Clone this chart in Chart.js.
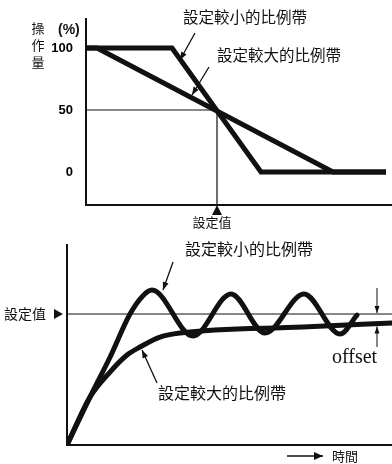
<!DOCTYPE html>
<html>
<head>
<meta charset="utf-8">
<script src="https://cdn.jsdelivr.net/npm/chart.js@4.4.1/dist/chart.umd.min.js"></script>
<style>
  body { margin: 0; background: #fff; }
  #wrap { position: relative; width: 392px; height: 464px; }
  canvas { position: absolute; left: 0; }
  #top { top: 0; }
  #bottom { top: 232px; }
</style>
</head>
<body>
<div id="wrap">
  <canvas id="top" width="392" height="232"></canvas>
  <canvas id="bottom" width="392" height="232"></canvas>
</div>
<script>
// 上圖：比例帶（輸入 vs 操作量 %）
const narrowBandX = [0, 86, 175, 300];
const narrowBandY = [100, 100, 0, 0];
const wideBandX = [0, 11, 247, 300];
const wideBandY = [100, 100, 0, 0];
const outputTicks = [0, 50, 100];
const setpointIn = 131;
const setpointOut = 50;

// 下圖：時間響應
const narrowTime = [0, 23, 43, 63, 76, 85, 126, 164, 198, 237, 273, 290];
const narrowResp = [0, 36.6, 67, 100, 114, 118.3, 83.2, 115.3, 85.5, 115.3, 84.7, 99.2];
const wideTime = [0, 23, 43, 60, 73, 93, 113, 236, 325];
const wideResp = [0, 36.6, 55.7, 68.7, 74.8, 82.4, 85.5, 90.1, 93.1];
const setpointValue = 100;

const INK = '#111';
const CJK = '"Noto Sans CJK TC", "Noto Sans CJK JP", sans-serif';
const SANS = '"Liberation Sans", Arial, sans-serif';

const pts = (xs, ys) => xs.map((x, i) => ({ x: x, y: ys[i] }));

function arrow(ctx, x1, y1, x2, y2, head, half) {
    head = head || 8; half = half || 3;
    ctx.beginPath();
    ctx.moveTo(x1, y1);
    ctx.lineTo(x2, y2);
    ctx.stroke();
    const a = Math.atan2(y2 - y1, x2 - x1);
    const bx = x2 - head * Math.cos(a), by = y2 - head * Math.sin(a);
    ctx.beginPath();
    ctx.moveTo(x2, y2);
    ctx.lineTo(bx + half * Math.sin(a), by - half * Math.cos(a));
    ctx.lineTo(bx - half * Math.sin(a), by + half * Math.cos(a));
    ctx.closePath();
    ctx.fill();
}

function text(ctx, s, x, y, font, align) {
    ctx.font = font;
    ctx.textAlign = align || 'left';
    ctx.textBaseline = 'middle';
    ctx.fillText(s, x, y);
}

// --- 上圖的註解 ---
const topNotes = {
    id: 'topNotes',
    afterDraw(chart) {
        const ctx = chart.ctx;
        const sx = chart.scales.x, sy = chart.scales.y;
        ctx.save();
        ctx.fillStyle = INK;
        ctx.strokeStyle = INK;
        ctx.lineWidth = 1.3;

        text(ctx, '操', 38, 28, '13px ' + CJK, 'center');
        text(ctx, '作', 38, 45, '13px ' + CJK, 'center');
        text(ctx, '量', 38, 62, '13px ' + CJK, 'center');
        text(ctx, '(%)', 58, 30, 'bold 14px ' + SANS);

        // 設定值 三角形
        const px = sx.getPixelForValue(setpointIn);
        const base = sy.bottom;
        ctx.beginPath();
        ctx.moveTo(px, base);
        ctx.lineTo(px - 5, base + 10);
        ctx.lineTo(px + 5, base + 10);
        ctx.closePath();
        ctx.fill();
        text(ctx, '設定值', px - 5, 222, '13px ' + CJK, 'center');

        text(ctx, '設定較小的比例帶', 183, 17, '15.5px ' + CJK);
        text(ctx, '設定較大的比例帶', 217, 55, '15.5px ' + CJK);
        arrow(ctx, 195, 33, 180, 60);
        arrow(ctx, 209, 67, 192, 95);
        ctx.restore();
    }
};

// --- 下圖的註解 ---
const bottomNotes = {
    id: 'bottomNotes',
    afterDraw(chart) {
        const ctx = chart.ctx;
        const sx = chart.scales.x, sy = chart.scales.y;
        ctx.save();
        ctx.fillStyle = INK;
        ctx.strokeStyle = INK;
        ctx.lineWidth = 1.3;

        const spY = sy.getPixelForValue(setpointValue);
        text(ctx, '設定值', 4, spY, '14px ' + CJK);
        ctx.beginPath();
        ctx.moveTo(sx.left - 4, spY);
        ctx.lineTo(sx.left - 13, spY - 5);
        ctx.lineTo(sx.left - 13, spY + 5);
        ctx.closePath();
        ctx.fill();

        text(ctx, '設定較小的比例帶', 185, 17, '16px ' + CJK);
        text(ctx, '設定較大的比例帶', 158, 161, '16px ' + CJK);
        arrow(ctx, 173, 30, 163, 58);
        arrow(ctx, 157, 151, 142, 118);

        // offset
        const ox = 377;
        const wideEnd = sy.getPixelForValue(wideResp[wideResp.length - 1] - 0.3);
        ctx.lineWidth = 1;
        arrow(ctx, ox, 56, ox, spY - 1, 7, 2.5);
        arrow(ctx, ox, 115, ox, wideEnd + 3, 7, 2.5);
        ctx.font = '20px "Liberation Serif", "Times New Roman", serif';
        ctx.textAlign = 'left';
        ctx.textBaseline = 'alphabetic';
        ctx.fillText('offset', 332, 131);

        // 時間
        ctx.lineWidth = 1.5;
        arrow(ctx, 287, 224, 323, 224, 9, 4);
        text(ctx, '時間', 332, 224, '13px ' + CJK);
        ctx.restore();
    }
};

new Chart(document.getElementById('top'), {
    type: 'line',
    data: {
        datasets: [
            {
                data: pts(narrowBandX, narrowBandY),
                borderColor: INK, borderWidth: 5, pointRadius: 0, tension: 0,
                borderJoinStyle: 'miter'
            },
            {
                data: pts(wideBandX, wideBandY),
                borderColor: INK, borderWidth: 5, pointRadius: 0, tension: 0,
                borderJoinStyle: 'miter'
            },
            {
                // 設定值的輔助線
                data: [
                    { x: 0, y: setpointOut },
                    { x: setpointIn, y: setpointOut },
                    { x: setpointIn, y: -26.6 }
                ],
                borderColor: INK, borderWidth: 1.2, pointRadius: 0, tension: 0
            }
        ]
    },
    options: {
        responsive: false,
        animation: false,
        devicePixelRatio: 1,
        layout: { padding: { top: 19, right: 0, left: 0, bottom: 0 } },
        plugins: { legend: { display: false }, tooltip: { enabled: false } },
        scales: {
            x: {
                type: 'linear', min: 0, max: 306,
                grid: { display: false },
                border: { display: true, color: INK, width: 2 },
                ticks: { display: false },
                afterFit: s => { s.height = 27; }
            },
            y: {
                type: 'linear', min: -26.6, max: 123.4,
                grid: { display: false },
                border: { display: true, color: INK, width: 2 },
                afterBuildTicks: s => { s.ticks = outputTicks.map(v => ({ value: v })); },
                ticks: {
                    color: '#000', padding: 5,
                    font: { family: SANS, size: 13, weight: 'bold' }
                },
                afterFit: s => { s.width = 86; }
            }
        }
    },
    plugins: [topNotes]
});

new Chart(document.getElementById('bottom'), {
    type: 'line',
    data: {
        datasets: [
            {
                data: pts(narrowTime, narrowResp),
                borderColor: INK, borderWidth: 5, pointRadius: 0,
                cubicInterpolationMode: 'monotone', borderCapStyle: 'round'
            },
            {
                data: pts(wideTime, wideResp),
                borderColor: INK, borderWidth: 5, pointRadius: 0,
                cubicInterpolationMode: 'monotone', borderCapStyle: 'round'
            },
            {
                data: [{ x: 0, y: setpointValue }, { x: 325, y: setpointValue }],
                borderColor: INK, borderWidth: 1, pointRadius: 0, tension: 0
            }
        ]
    },
    options: {
        responsive: false,
        animation: false,
        devicePixelRatio: 1,
        layout: { padding: { top: 13, right: 0, left: 0, bottom: 0 } },
        plugins: { legend: { display: false }, tooltip: { enabled: false } },
        scales: {
            x: {
                type: 'linear', min: 0, max: 325,
                grid: { display: false },
                border: { display: true, color: INK, width: 2 },
                ticks: { display: false },
                afterFit: s => { s.height = 19; }
            },
            y: {
                type: 'linear', min: 0, max: 152.7,
                grid: { display: false },
                border: { display: true, color: INK, width: 2 },
                ticks: { display: false },
                afterFit: s => { s.width = 67; }
            }
        }
    },
    plugins: [bottomNotes]
});
</script>
</body>
</html>
